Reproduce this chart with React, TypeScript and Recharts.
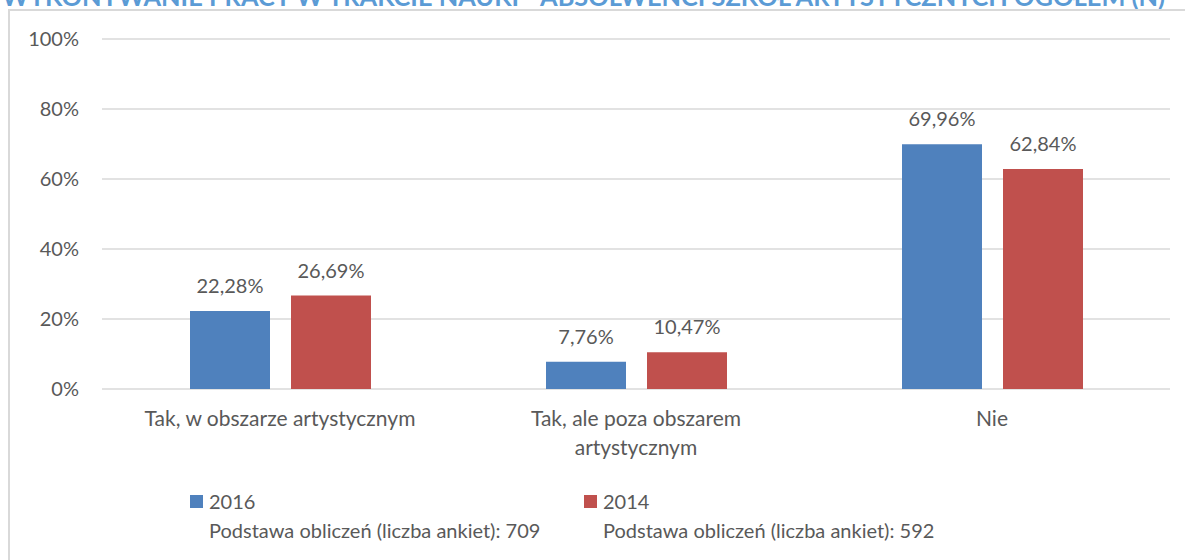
import React from 'react';
import { BarChart, Bar, XAxis, YAxis, CartesianGrid, LabelList } from 'recharts';

const title = 'WYKONYWANIE PRACY W TRAKCIE NAUKI - ABSOLWENCI SZKÓŁ ARTYSTYCZNYCH OGÓŁEM (N)';
const categories = ['Tak, w obszarze artystycznym', 'Tak, ale poza obszarem artystycznym', 'Nie'];
const categoryLines = [['Tak, w obszarze artystycznym'], ['Tak, ale poza obszarem', 'artystycznym'], ['Nie']];
const values2016 = [22.28, 7.76, 69.96];
const values2014 = [26.69, 10.47, 62.84];
const seriesNames = ['2016', '2014'];
const seriesNotes = ['Podstawa obliczeń (liczba ankiet): 709', 'Podstawa obliczeń (liczba ankiet): 592'];
const seriesColors = ['#4F81BD', '#C0504D'];
const yTicks = [0, 20, 40, 60, 80, 100];

const data = categories.map((c, i) => ({ name: c, s2016: values2016[i], s2014: values2014[i] }));
const seriesKeys = ['s2016', 's2014'];

const TEXT = '#595959';
const FONT = 'Lato, "Open Sans", sans-serif';

const fmt = (v: any) => Number(v).toFixed(2).replace('.', ',') + '%';

const XTick = (props: any) => {
  const { x, y, payload } = props;
  const idx = categories.indexOf(payload.value);
  const lines = idx >= 0 ? categoryLines[idx] : [String(payload.value)];
  return (
    <text x={x} y={y} textAnchor="middle" fill={TEXT} fontSize={21} fontFamily={FONT}>
      {lines.map((l, i) => (
        <tspan key={i} x={x} dy={i === 0 ? 37 : 29}>{l}</tspan>
      ))}
    </text>
  );
};

export default function App() {
  return (
    <div style={{ position: 'absolute', left: 0, top: 0, width: 1185, height: 560, overflow: 'hidden', background: '#fff', fontFamily: FONT }}>
      <svg width={1185} height={20} style={{ position: 'absolute', left: 0, top: 0 }}>
        <text x={2} y={6} textLength={1163} lengthAdjust="spacingAndGlyphs" fill="#5B9BD5" fontWeight="bold" fontSize={24} fontFamily={FONT}>{title}</text>
      </svg>
      <div style={{ position: 'absolute', left: 8, top: 9, width: 1300, height: 700, border: '2px solid #d9d9d9', boxSizing: 'border-box' }} />
      <div style={{ position: 'absolute', left: 0, top: 0 }}>
        <BarChart width={1185} height={560} data={data} margin={{ top: 39, right: 15, left: 0, bottom: 111 }} barGap={21} barSize={80}>
          <CartesianGrid vertical={false} stroke="#d9d9d9" strokeWidth={1.5} />
          <XAxis dataKey="name" axisLine={false} tickLine={false} tickSize={0} tickMargin={0} height={60} interval={0} tick={<XTick />} />
          <YAxis domain={[0, 100]} ticks={yTicks} width={102} axisLine={false} tickLine={false} tickSize={0} tickMargin={23}
            tickFormatter={(v: any) => `${v}%`} tick={{ fill: TEXT, fontSize: 20, fontFamily: FONT }} />
          {seriesKeys.map((k, i) => (
            <Bar key={k} dataKey={k} name={seriesNames[i]} fill={seriesColors[i]} isAnimationActive={false}>
              <LabelList dataKey={k} position="top" offset={18} formatter={fmt} fill={TEXT} fontSize={20} fontFamily={FONT} />
            </Bar>
          ))}
        </BarChart>
      </div>
      <div style={{ position: 'absolute', left: 190, top: 487, display: 'flex' }}>
        {seriesNames.map((n, i) => (
          <div key={n} style={{ width: 394, display: 'flex', alignItems: 'flex-start' }}>
            <div style={{ width: 13, height: 13, background: seriesColors[i], marginTop: 8, marginRight: 6, flexShrink: 0 }} />
            <div style={{ color: TEXT, fontSize: 20, lineHeight: '29px', whiteSpace: 'nowrap' }}>
              <div>{n}</div>
              <div>{seriesNotes[i]}</div>
            </div>
          </div>
        ))}
      </div>
    </div>
  );
}
